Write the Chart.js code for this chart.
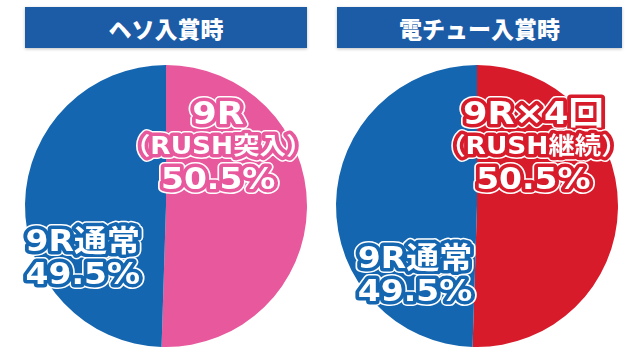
<!DOCTYPE html>
<html>
<head>
<meta charset="utf-8">
<script src="https://cdn.jsdelivr.net/npm/chart.js@4.4.0/dist/chart.umd.min.js"></script>
<style>
  body { margin: 0; background: #fff; width: 640px; height: 358px; position: relative; overflow: hidden; }
  .banner {
    position: absolute; top: 7px; height: 41px; background: #1c5ba6; color: #fff;
    font: 900 23px 'Noto Sans CJK JP', sans-serif; text-align: center; line-height: 43px;
    box-shadow: 0 1px 3px rgba(0,0,0,0.25);
  }
  .wrap { position: absolute; top: 55px; width: 320px; height: 303px; }
</style>
</head>
<body>
<div class="banner" style="left:25px;width:282px">ヘソ入賞時</div>
<div class="banner" style="left:337px;width:285px">電チュー入賞時</div>
<div class="wrap" style="left:0"><canvas id="hesoChart"></canvas></div>
<div class="wrap" style="left:320px"><canvas id="denchuChart"></canvas></div>
<script>
const sliceNames = ['RUSH', '通常']
const hesoValues = [50.5, 49.5]
const denchuValues = [50.5, 49.5]
const hesoLines = [['9R', '（RUSH突入）'], ['9R通常']]
const denchuLines = [['9R×4回', '（RUSH継続）'], ['9R通常']]

const blue = '#1566b0'
const pink = '#e8589d'
const red = '#d81b2b'

// label spots, as fractions of the radius from the pie center
const hesoSpots = [[0.37, -0.41], [-0.59, 0.38]]
const denchuSpots = [[0.40, -0.41], [-0.44, 0.5]]

const labelPlugin = {
  id: 'sliceLabels',
  afterDatasetsDraw(chart, args, opts) {
    const ctx = chart.ctx
    const meta = chart.getDatasetMeta(0)
    const ds = chart.data.datasets[0]
    meta.data.forEach((arc, i) => {
      const lines = opts.lines[i].slice()
      lines.push(ds.data[i] + '%')
      const sizes = lines.map((l, k) => (l.startsWith('（') ? 24 : (k === 0 && lines.length > 2 ? 32 : 30)))
      const lh = 33
      const cx = arc.x + opts.spots[i][0] * arc.outerRadius
      const cy = arc.y + opts.spots[i][1] * arc.outerRadius
      const top = cy - (lines.length - 1) * lh / 2
      lines.forEach((text, k) => {
        ctx.save()
        ctx.translate(cx, top + k * lh)
        ctx.scale(1.1, 1)
        ctx.font = `bold ${sizes[k]}px 'DejaVu Sans', 'Noto Sans CJK JP', sans-serif`
        ctx.textAlign = 'center'
        ctx.textBaseline = 'middle'
        ctx.lineJoin = 'round'
        ctx.strokeStyle = '#fff'
        ctx.lineWidth = 10
        ctx.strokeText(text, 0, 0)
        ctx.strokeStyle = ds.backgroundColor[i]
        ctx.lineWidth = 7
        ctx.strokeText(text, 0, 0)
        ctx.fillStyle = '#fff'
        ctx.fillText(text, 0, 0)
        ctx.restore()
      })
    })
  }
}

function makePie(id, values, colors, lines, spots, padding) {
  return new Chart(document.getElementById(id), {
    type: 'pie',
    data: {
      labels: sliceNames,
      datasets: [{ data: values, backgroundColor: colors, borderWidth: 0 }]
    },
    options: {
      responsive: true,
      maintainAspectRatio: false,
      animation: false,
      layout: { padding: padding },
      plugins: {
        legend: { display: false },
        tooltip: { enabled: false },
        sliceLabels: { lines: lines, spots: spots }
      }
    },
    plugins: [labelPlugin]
  })
}

makePie('hesoChart', hesoValues, [pink, blue], hesoLines, hesoSpots, { top: 10, bottom: 11, left: 25, right: 13 })
makePie('denchuChart', denchuValues, [red, blue], denchuLines, denchuSpots, { top: 10, bottom: 11, left: 16, right: 22 })
</script>
</body>
</html>
